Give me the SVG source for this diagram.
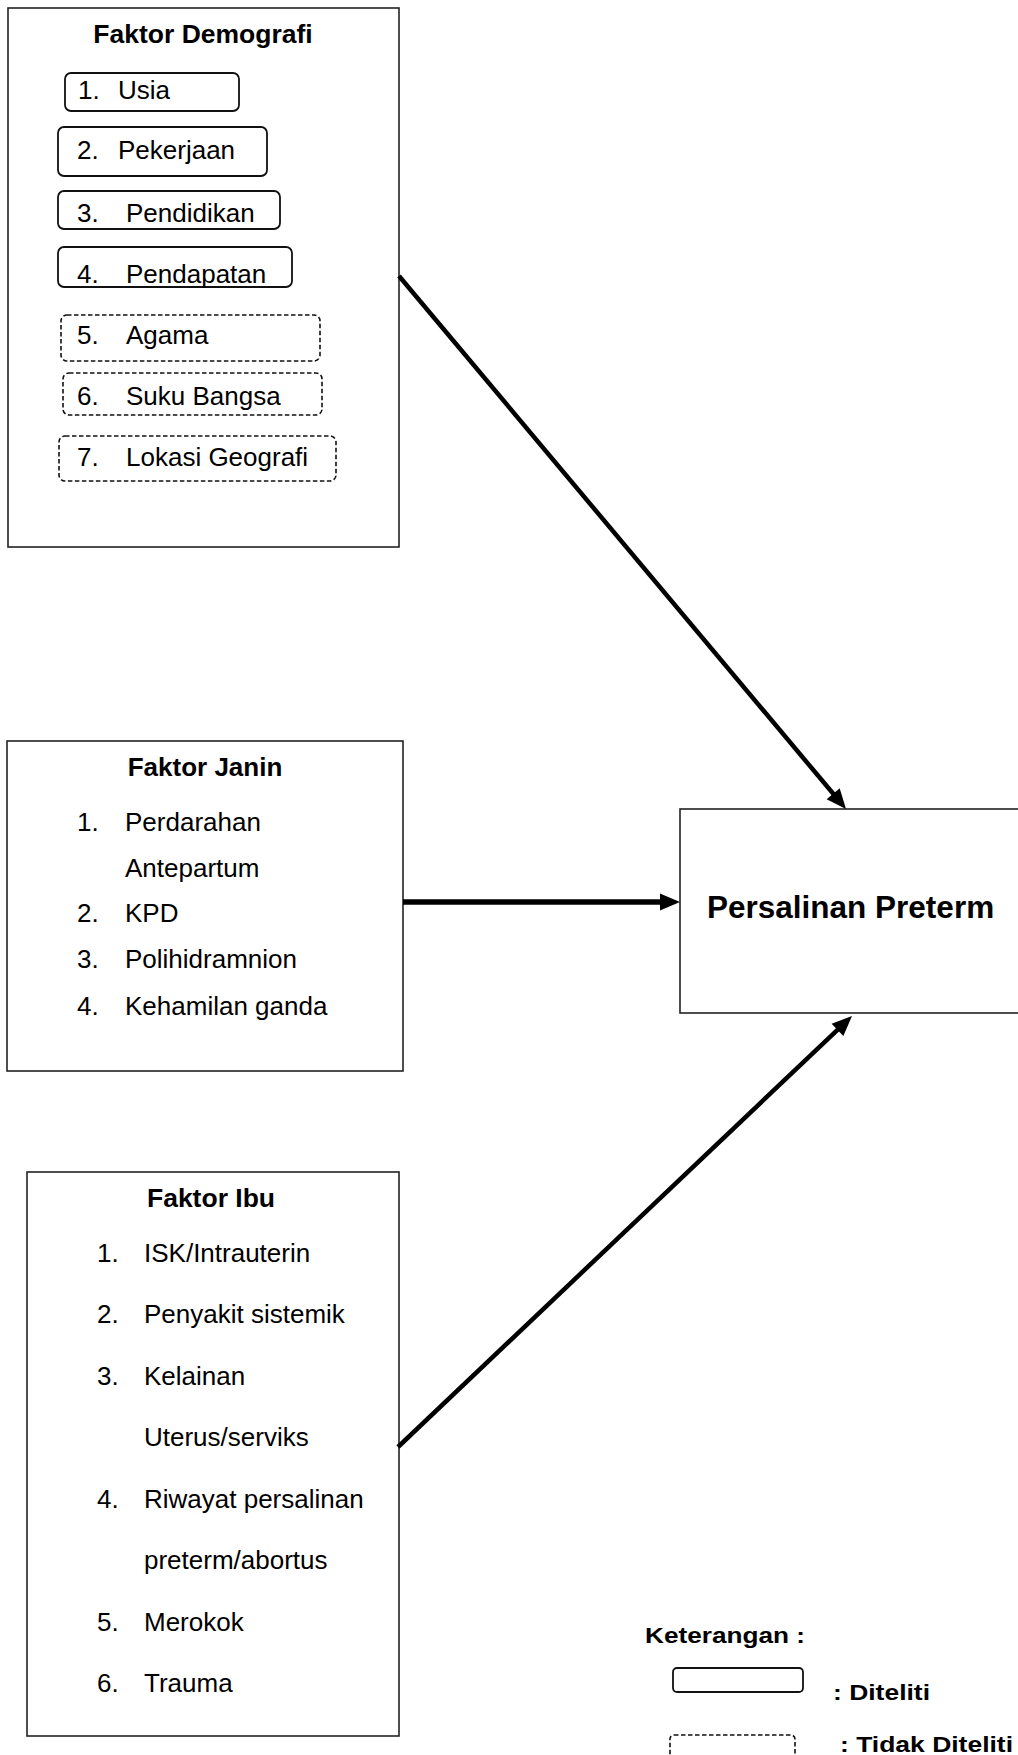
<svg xmlns="http://www.w3.org/2000/svg" width="1018" height="1755" viewBox="0 0 1018 1755">
<style>
text{font-family:"Liberation Sans",Arial,sans-serif;fill:#000}
.t{font-size:26px}
.b{font-weight:bold}
.box{fill:#fff;stroke:#222;stroke-width:1.6}
.sol{fill:none;stroke:#111;stroke-width:1.8}
.dash{fill:none;stroke:#111;stroke-width:1.6;stroke-dasharray:4.5 2.5}
.arr{stroke:#000;fill:none;marker-end:url(#ah)}
</style>
<defs>
<marker id="ah" markerUnits="userSpaceOnUse" markerWidth="20" markerHeight="17" refX="8" refY="8.5" orient="auto" overflow="visible">
<path d="M0,0 L20,8.5 L0,17 z" fill="#000"/>
</marker>
</defs>
<rect width="1018" height="1755" fill="#fff"/>

<g id="faktor-demografi">
<rect class="box" x="8" y="8" width="391" height="539"/>
<text class="b" x="203" y="43" font-size="26.5" text-anchor="middle">Faktor Demografi</text>
<rect class="sol" x="65" y="73" width="174" height="38" rx="6"/>
<text class="t" x="78" y="99">1.</text><text class="t" x="118" y="99">Usia</text>
<rect class="sol" x="58" y="127" width="209" height="49" rx="6"/>
<text class="t" x="77" y="159">2.</text><text class="t" x="118" y="159">Pekerjaan</text>
<rect class="sol" x="58" y="191" width="222" height="38" rx="6"/>
<text class="t" x="77" y="222">3.</text><text class="t" x="126" y="222">Pendidikan</text>
<rect class="sol" x="58" y="247" width="234" height="40" rx="6"/>
<text class="t" x="77" y="283">4.</text><text class="t" x="126" y="283">Pendapatan</text>
<rect class="dash" x="61" y="315" width="259" height="46" rx="6"/>
<text class="t" x="77" y="344">5.</text><text class="t" x="126" y="344">Agama</text>
<rect class="dash" x="63" y="373" width="259" height="42" rx="6"/>
<text class="t" x="77" y="405">6.</text><text class="t" x="126" y="405">Suku Bangsa</text>
<rect class="dash" x="59" y="436" width="277" height="45" rx="6"/>
<text class="t" x="77" y="466">7.</text><text class="t" x="126" y="466">Lokasi Geografi</text>
</g>

<g id="faktor-janin">
<rect class="box" x="7" y="741" width="396" height="330"/>
<text class="b" x="205" y="776" font-size="26" text-anchor="middle">Faktor Janin</text>
<text class="t" x="77" y="831">1.</text><text class="t" x="125" y="831">Perdarahan</text>
<text class="t" x="125" y="877">Antepartum</text>
<text class="t" x="77" y="922">2.</text><text class="t" x="125" y="922">KPD</text>
<text class="t" x="77" y="968">3.</text><text class="t" x="125" y="968">Polihidramnion</text>
<text class="t" x="77" y="1015">4.</text><text class="t" x="125" y="1015">Kehamilan ganda</text>
</g>

<g id="faktor-ibu">
<rect class="box" x="27" y="1172" width="372" height="564"/>
<text class="b" x="211" y="1207" font-size="26.5" text-anchor="middle">Faktor Ibu</text>
<text class="t" x="97" y="1262">1.</text><text class="t" x="144" y="1262">ISK/Intrauterin</text>
<text class="t" x="97" y="1323">2.</text><text class="t" x="144" y="1323">Penyakit sistemik</text>
<text class="t" x="97" y="1385">3.</text><text class="t" x="144" y="1385">Kelainan</text>
<text class="t" x="144" y="1446">Uterus/serviks</text>
<text class="t" x="97" y="1508">4.</text><text class="t" x="144" y="1508">Riwayat persalinan</text>
<text class="t" x="144" y="1569">preterm/abortus</text>
<text class="t" x="97" y="1631">5.</text><text class="t" x="144" y="1631">Merokok</text>
<text class="t" x="97" y="1692">6.</text><text class="t" x="144" y="1692">Trauma</text>
</g>

<g id="persalinan-preterm">
<rect class="box" x="680" y="809" width="360" height="204"/>
<text class="b" x="707" y="918" font-size="31.5">Persalinan Preterm</text>
</g>

<g id="connectors">
<line class="arr" x1="399" y1="276" x2="838.3" y2="799.8" stroke-width="4.5"/>
<line class="arr" x1="403" y1="902" x2="668" y2="902" stroke-width="5.5"/>
<line class="arr" x1="398" y1="1447" x2="843.3" y2="1024.3" stroke-width="4.5"/>
</g>

<g id="keterangan">
<text class="b" x="645" y="1643" font-size="22" textLength="160" lengthAdjust="spacingAndGlyphs">Keterangan :</text>
<rect class="sol" x="673" y="1668" width="130" height="24" rx="4"/>
<text class="b" x="833" y="1700" font-size="22" textLength="97" lengthAdjust="spacingAndGlyphs">: Diteliti</text>
<rect class="dash" x="670" y="1735" width="125" height="40" rx="4"/>
<text class="b" x="840" y="1752" font-size="22" textLength="173" lengthAdjust="spacingAndGlyphs">: Tidak Diteliti</text>
</g>
</svg>
